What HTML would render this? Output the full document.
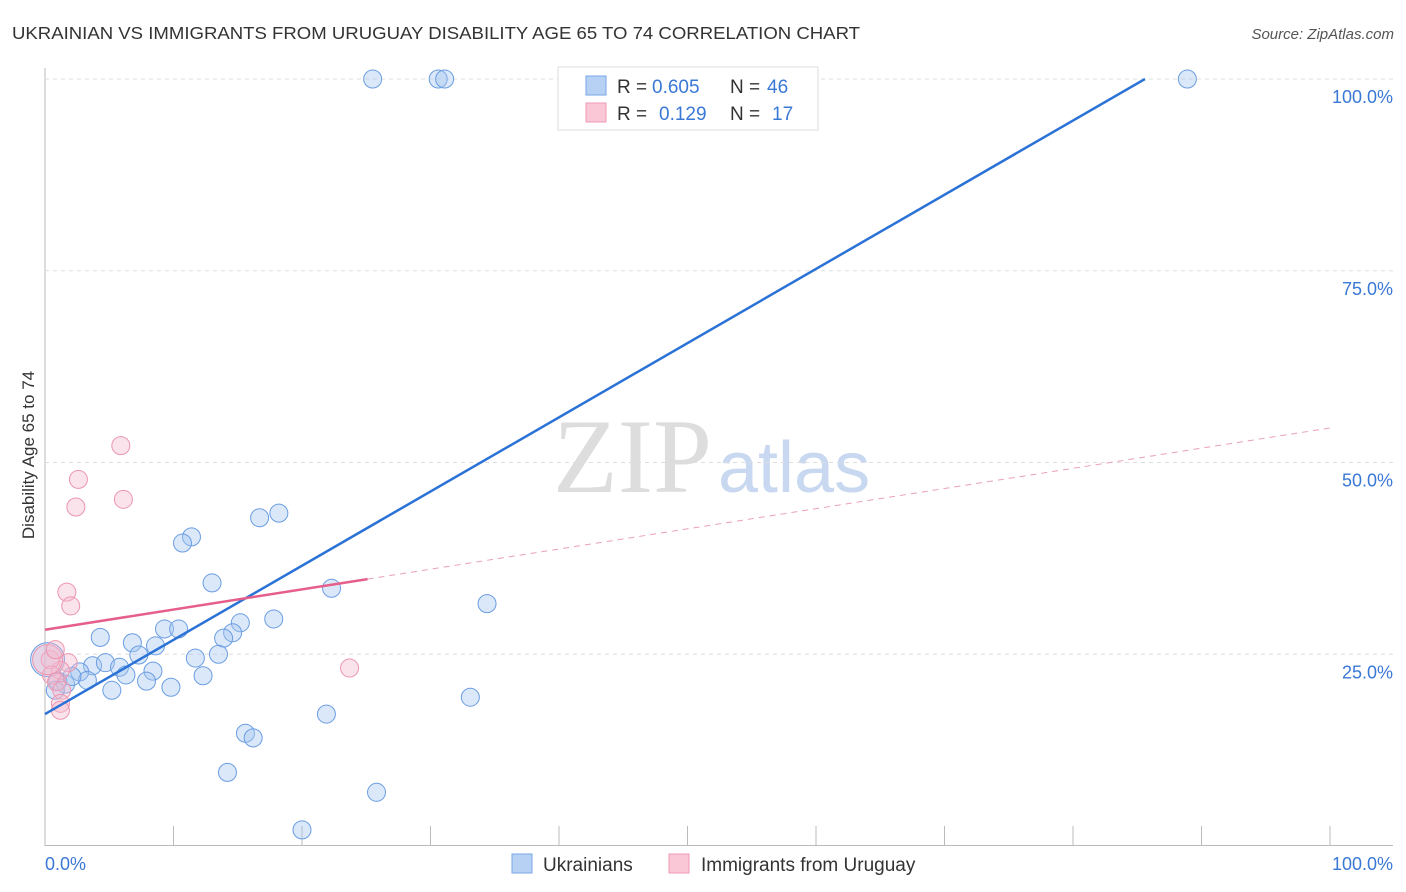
<!DOCTYPE html>
<html><head><meta charset="utf-8"><style>
body{margin:0;background:#fff;font-family:"Liberation Sans",sans-serif}
svg{display:block}
</style></head><body>
<svg id="c" width="1406" height="892">
<text x="12" y="39" font-size="17.5" fill="#333" textLength="848" lengthAdjust="spacingAndGlyphs">UKRAINIAN VS IMMIGRANTS FROM URUGUAY DISABILITY AGE 65 TO 74 CORRELATION CHART</text>
<text x="1394" y="39" font-size="15" fill="#555" font-style="italic" text-anchor="end">Source: ZipAtlas.com</text>
<text x="34" y="455" font-size="17" fill="#333" text-anchor="middle" transform="rotate(-90 34 455)">Disability Age 65 to 74</text>
<text x="553" y="492" font-size="106" fill="#ddd" font-family="Liberation Serif,serif">ZIP</text>
<text x="718" y="492" font-size="72" fill="#c8d8f0">atlas</text>
<g id="grid"></g><g id="marks"></g>
<g>
<rect x="558" y="67" width="260" height="63" fill="#fff" stroke="#ddd"/>
<rect x="586" y="76" width="20" height="19" fill="#b7d1f5" stroke="#7aa6e6"/>
<rect x="586" y="103" width="20" height="19" fill="#f9c7d5" stroke="#ef9ab2"/>
<text x="617" y="93" font-size="19" fill="#333">R =</text>
<text x="652" y="93" font-size="19" fill="#3a78d6">0.605</text>
<text x="730" y="93" font-size="19" fill="#333">N =</text>
<text x="767" y="93" font-size="19" fill="#3a78d6">46</text>
<text x="617" y="120" font-size="19" fill="#333">R =</text>
<text x="659" y="120" font-size="19" fill="#3a78d6">0.129</text>
<text x="730" y="120" font-size="19" fill="#333">N =</text>
<text x="772" y="120" font-size="19" fill="#3a78d6">17</text>
</g>
<g>
<rect x="512" y="854" width="20" height="19" fill="#b7d1f5" stroke="#7aa6e6"/>
<text x="543" y="871" font-size="19" fill="#333">Ukrainians</text>
<rect x="669" y="854" width="20" height="19" fill="#f9c7d5" stroke="#ef9ab2"/>
<text x="701" y="871" font-size="19" fill="#333">Immigrants from Uruguay</text>
</g>
<text x="45" y="870" font-size="18" fill="#3a78d6">0.0%</text>
<text x="1393" y="870" font-size="18" fill="#3a78d6" text-anchor="end">100.0%</text>
</svg>
<script>
const yTicks=[100,75,50,25];
const yTickLabels=["100.0%","75.0%","50.0%","25.0%"];
const xTicks=[0,10,20,30,40,50,60,70,80,90,100];
const blueX=[25.5,30.6,31.1,88.9,18.2,16.7,11.4,10.7,13.0,34.4,22.3,17.8,15.2,14.6,13.9,9.3,10.4,4.3,6.8,8.6,7.3,11.7,13.5,3.7,4.7,5.8,6.3,8.4,2.7,3.3,7.9,9.8,12.3,5.2,1.0,1.6,33.1,21.9,15.6,16.2,14.2,25.8,20.0,0.2,0.8,2.1];
const blueY=[100,100,100,100,43.4,42.8,40.3,39.5,34.3,31.6,33.6,29.6,29.1,27.8,27.1,28.3,28.3,27.2,26.5,26.1,24.9,24.5,25.0,23.5,23.9,23.3,22.3,22.8,22.7,21.6,21.5,20.7,22.2,20.3,21.5,21.1,19.4,17.2,14.7,14.1,9.6,7.0,2.1,24.3,20.3,22.1];
const pinkX=[5.9,2.6,6.1,2.4,1.7,2.0,23.7,1.8,1.2,0.4,0.5,0.9,1.3,1.2,1.2,0.2,0.8];
const pinkY=[52.2,47.8,45.2,44.2,33.1,31.3,23.2,23.9,22.9,24.3,22.3,21.4,20.3,18.6,17.7,24.3,25.6];
const blueLine=[[0,17.2],[85.6,100]];
const pinkSolid=[[0,28.2],[25.1,34.8]];
const pinkDash=[[25.1,34.8],[100,54.5]];
const X=v=>45+v*12.85, Y=v=>846-v*7.67;
const NS="http://www.w3.org/2000/svg";
const grid=document.getElementById('grid'), marks=document.getElementById('marks');
function mk(tag,attrs,parent){const e=document.createElementNS(NS,tag);for(const k in attrs)e.setAttribute(k,attrs[k]);parent.appendChild(e);return e;}
mk('line',{x1:45,y1:68,x2:45,y2:846,stroke:'#bbb'},grid);
mk('line',{x1:45,y1:845.5,x2:1393,y2:845.5,stroke:'#bbb'},grid);
yTicks.forEach((t,i)=>{
 const l=mk('line',{x1:45,y1:Y(t),x2:1393,y2:Y(t),stroke:'#ddd','stroke-dasharray':'4,4'},grid);
 
 
 const tx=mk('text',{x:1393,y:Y(t)+24,'font-size':18,fill:'#3a78d6','text-anchor':'end'},grid);
 tx.textContent=yTickLabels[i];
 
 
});
xTicks.forEach(t=>{
 const l=mk('line',{x1:X(t),y1:826,x2:X(t),y2:846,stroke:'#bbb'},grid);
 
 
});
function dot(x,y,r,fill,stroke,name){
 const c=mk('circle',{cx:X(x),cy:Y(y),r:r,fill:fill,stroke:stroke,'stroke-width':1},marks);
 
 
}
blueX.forEach((x,i)=>dot(x,blueY[i],i==43?17:9,'rgba(165,198,240,0.4)','#6a9de2','ukrainians-point'));
pinkX.forEach((x,i)=>dot(x,pinkY[i],i==15?15:9,'rgba(245,185,205,0.4)','#ec95b0','uruguay-point'));
function line(p,stroke,w,dash,name){
 const l=mk('line',{x1:X(p[0][0]),y1:Y(p[0][1]),x2:X(p[1][0]),y2:Y(p[1][1]),stroke:stroke,'stroke-width':w},marks);
 if(dash)l.setAttribute('stroke-dasharray',dash);
 
 
}
line(blueLine,'#2a72d6',2.5,null,'ukrainians-trendline');
line(pinkSolid,'#e55f8a',2.5,null,'uruguay-trendline');
line(pinkDash,'#eaa0b8',1,'6,5','uruguay-trendline-extension');
</script>
</body></html>
